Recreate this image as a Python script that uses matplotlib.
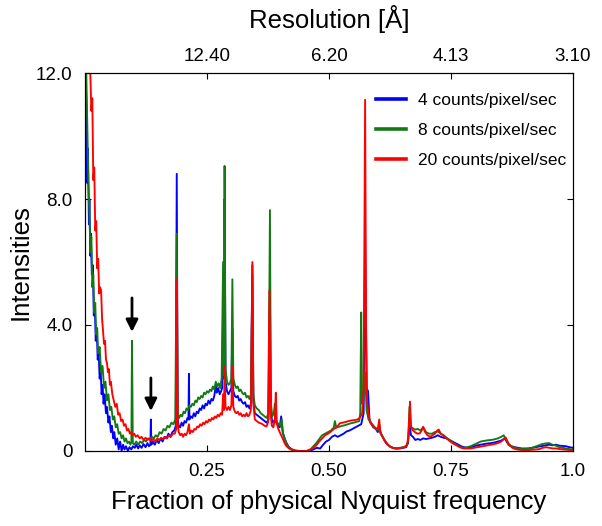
import matplotlib
matplotlib.use("Agg")
import matplotlib.pyplot as plt

# fraction of Nyquist ticks (bottom) and matching resolution labels (top)
freq_ticks = [0.25, 0.5, 0.75, 1.0]
freq_labels = ['0.25', '0.50', '0.75', '1.0']
res_labels = ['12.40', '6.20', '4.13', '3.10']
int_ticks = [0, 4, 8, 12]
int_labels = ['0', '4.0', '8.0', '12.0']

series_names = ['4 counts/pixel/sec', '8 counts/pixel/sec', '20 counts/pixel/sec']
series_colors = ['#0000ff', '#137a13', '#ff0000']

# (fraction, intensity)
blue_pts = [
    (0.000, 12.5), (0.003, 11.0), (0.005, 8.5), (0.006, 9.6), (0.008, 7.2), (0.009, 8.0),
    (0.011, 6.2), (0.012, 6.9), (0.014, 5.6), (0.016, 5.9), (0.018, 4.3), (0.020, 4.6),
    (0.022, 3.5), (0.024, 3.9), (0.026, 2.9), (0.028, 3.1), (0.030, 2.3), (0.032, 2.6),
    (0.034, 1.8), (0.036, 2.1), (0.038, 1.5), (0.040, 1.8), (0.043, 1.2), (0.045, 1.4),
    (0.048, 0.9), (0.050, 1.1), (0.053, 0.6), (0.055, 0.8), (0.058, 0.4), (0.060, 0.6),
    (0.063, 0.2), (0.066, 0.4), (0.069, 0.05), (0.072, 0.3), (0.075, 0.0), (0.078, 0.2),
    (0.081, 0.05), (0.084, 0.15), (0.088, 0.0), (0.091, 0.12), (0.095, 0.05), (0.098, 0.15),
    (0.102, 0.1), (0.105, 0.2), (0.109, 0.08), (0.112, 0.18), (0.116, 0.1), (0.120, 0.22),
    (0.124, 0.12), (0.128, 0.25), (0.131, 0.15), (0.134, 0.2), (0.135, 1.0), (0.136, 0.2),
    (0.139, 0.3), (0.143, 0.2), (0.147, 0.35), (0.151, 0.25), (0.155, 0.4), (0.159, 0.3),
    (0.163, 0.45), (0.167, 0.4), (0.171, 0.55), (0.175, 0.45), (0.179, 0.6), (0.183, 0.65),
    (0.186, 0.8), (0.188, 8.8), (0.190, 1.0), (0.192, 0.8), (0.195, 0.75), (0.198, 0.9),
    (0.201, 0.8), (0.204, 0.95), (0.207, 0.9), (0.210, 1.05), (0.212, 1.0), (0.213, 2.45),
    (0.214, 1.0), (0.217, 1.1), (0.220, 1.05), (0.223, 1.2), (0.226, 1.1), (0.229, 1.25),
    (0.232, 1.2), (0.235, 1.35), (0.238, 1.3), (0.241, 1.45), (0.244, 1.35), (0.247, 1.5),
    (0.250, 1.45), (0.253, 1.6), (0.256, 1.5), (0.259, 1.65), (0.262, 1.6), (0.265, 1.75),
    (0.268, 2.1), (0.270, 1.85), (0.273, 2.0), (0.276, 1.8), (0.279, 1.9), (0.281, 2.0),
    (0.283, 4.5), (0.2845, 2.3), (0.286, 8.0), (0.288, 2.2), (0.291, 1.9), (0.294, 1.8),
    (0.297, 1.9), (0.300, 2.0), (0.302, 3.9), (0.304, 1.9), (0.307, 1.75), (0.310, 1.7),
    (0.313, 1.75), (0.316, 1.6), (0.319, 1.65), (0.322, 1.55), (0.325, 1.5), (0.328, 1.55),
    (0.331, 1.4), (0.334, 1.45), (0.337, 1.35), (0.340, 1.5), (0.343, 5.9), (0.345, 1.6),
    (0.348, 1.2), (0.352, 1.15), (0.356, 1.1), (0.360, 1.05), (0.364, 1.0), (0.368, 0.95),
    (0.372, 0.9), (0.376, 1.0), (0.379, 4.9), (0.381, 1.2), (0.384, 0.9), (0.387, 0.95),
    (0.390, 1.0), (0.393, 0.85), (0.396, 0.8), (0.399, 0.75), (0.402, 1.1), (0.405, 0.6),
    (0.409, 0.4), (0.413, 0.25), (0.418, 0.12), (0.424, 0.05), (0.430, 0.0), (0.440, 0.0),
    (0.450, 0.0), (0.460, 0.0), (0.468, 0.05), (0.475, 0.1), (0.482, 0.08), (0.488, 0.2),
    (0.494, 0.3), (0.500, 0.35), (0.506, 0.45), (0.512, 0.5), (0.518, 0.45), (0.524, 0.5),
    (0.530, 0.55), (0.536, 0.62), (0.542, 0.65), (0.548, 0.7), (0.554, 0.75), (0.560, 0.8),
    (0.566, 0.85), (0.571, 1.2), (0.574, 6.8), (0.577, 2.0), (0.580, 1.9), (0.583, 1.0),
    (0.587, 0.85), (0.591, 0.75), (0.596, 0.7), (0.600, 0.6), (0.603, 0.8), (0.606, 0.55),
    (0.611, 0.42), (0.617, 0.25), (0.624, 0.15), (0.631, 0.1), (0.638, 0.08), (0.645, 0.08),
    (0.652, 0.1), (0.658, 0.12), (0.662, 0.25), (0.665, 0.9), (0.668, 0.5), (0.672, 0.45),
    (0.677, 0.35), (0.682, 0.38), (0.687, 0.35), (0.693, 0.4), (0.699, 0.38), (0.705, 0.4),
    (0.711, 0.42), (0.717, 0.45), (0.723, 0.5), (0.729, 0.45), (0.735, 0.42), (0.741, 0.4),
    (0.747, 0.35), (0.753, 0.3), (0.759, 0.25), (0.765, 0.2), (0.771, 0.15), (0.777, 0.12),
    (0.783, 0.1), (0.790, 0.12), (0.797, 0.15), (0.804, 0.18), (0.811, 0.2), (0.818, 0.22),
    (0.825, 0.24), (0.832, 0.25), (0.839, 0.27), (0.846, 0.3), (0.853, 0.33), (0.860, 0.4),
    (0.864, 0.3), (0.868, 0.2), (0.874, 0.15), (0.881, 0.12), (0.888, 0.1), (0.895, 0.08),
    (0.902, 0.08), (0.909, 0.08), (0.916, 0.1), (0.923, 0.12), (0.930, 0.14), (0.937, 0.16),
    (0.944, 0.18), (0.951, 0.2), (0.958, 0.18), (0.965, 0.2), (0.972, 0.17), (0.979, 0.16),
    (0.986, 0.15), (0.993, 0.12), (1.000, 0.1),
]

green_pts = [
    (0.002, 12.5), (0.005, 10.0), (0.007, 8.5), (0.009, 7.6), (0.011, 6.3), (0.013, 6.8),
    (0.015, 5.2), (0.017, 5.6), (0.019, 4.4), (0.021, 4.7), (0.023, 3.7), (0.025, 3.9),
    (0.027, 3.1), (0.030, 3.3), (0.033, 2.5), (0.036, 2.7), (0.039, 2.0), (0.042, 2.2),
    (0.045, 1.6), (0.048, 1.8), (0.051, 1.3), (0.054, 1.4), (0.057, 1.0), (0.060, 1.1),
    (0.063, 0.75), (0.066, 0.85), (0.069, 0.55), (0.072, 0.6), (0.075, 0.4), (0.078, 0.5),
    (0.081, 0.3), (0.084, 0.4), (0.087, 0.25), (0.090, 0.3), (0.093, 0.2), (0.095, 0.3),
    (0.0963, 3.5), (0.098, 0.25), (0.101, 0.2), (0.105, 0.3), (0.109, 0.2), (0.113, 0.3),
    (0.117, 0.25), (0.121, 0.35), (0.125, 0.3), (0.129, 0.4), (0.133, 0.35), (0.137, 0.45),
    (0.141, 0.4), (0.145, 0.5), (0.149, 0.45), (0.153, 0.6), (0.157, 0.55), (0.161, 0.7),
    (0.165, 0.65), (0.169, 0.8), (0.173, 0.75), (0.177, 0.9), (0.181, 0.85), (0.185, 1.0),
    (0.188, 6.9), (0.190, 1.2), (0.193, 1.05), (0.196, 1.15), (0.199, 1.1), (0.202, 1.25),
    (0.205, 1.2), (0.208, 1.35), (0.211, 1.3), (0.214, 1.45), (0.217, 1.4), (0.220, 1.5),
    (0.223, 1.45), (0.226, 1.6), (0.229, 1.55), (0.232, 1.7), (0.235, 1.65), (0.238, 1.75),
    (0.241, 1.7), (0.244, 1.85), (0.247, 1.8), (0.250, 1.9), (0.253, 1.85), (0.256, 1.95),
    (0.259, 1.9), (0.262, 2.05), (0.265, 1.95), (0.268, 2.2), (0.271, 2.05), (0.274, 2.15),
    (0.277, 2.0), (0.280, 2.3), (0.283, 6.0), (0.2845, 2.4), (0.286, 9.05), (0.288, 2.6),
    (0.291, 2.2), (0.294, 2.1), (0.297, 2.15), (0.300, 2.3), (0.302, 5.45), (0.304, 2.3),
    (0.307, 2.1), (0.310, 2.0), (0.313, 2.05), (0.316, 1.9), (0.319, 1.95), (0.322, 1.85),
    (0.325, 1.8), (0.328, 1.85), (0.331, 1.7), (0.334, 1.75), (0.337, 1.65), (0.340, 1.8),
    (0.343, 5.6), (0.345, 1.8), (0.348, 1.45), (0.352, 1.35), (0.356, 1.3), (0.360, 1.2),
    (0.364, 1.15), (0.368, 1.1), (0.372, 1.05), (0.376, 1.2), (0.379, 7.65), (0.381, 1.5),
    (0.384, 1.1), (0.387, 1.2), (0.389, 1.5), (0.391, 1.0), (0.394, 0.9), (0.397, 0.85),
    (0.400, 0.8), (0.403, 1.0), (0.406, 0.55), (0.410, 0.35), (0.414, 0.2), (0.419, 0.1),
    (0.425, 0.05), (0.432, 0.02), (0.440, 0.0), (0.448, 0.0), (0.455, 0.0), (0.462, 0.05),
    (0.468, 0.15), (0.474, 0.25), (0.480, 0.38), (0.486, 0.5), (0.492, 0.55), (0.498, 0.6),
    (0.504, 0.65), (0.510, 0.75), (0.512, 0.95), (0.515, 0.75), (0.521, 0.77), (0.527, 0.8),
    (0.533, 0.82), (0.539, 0.85), (0.545, 0.88), (0.551, 0.9), (0.557, 0.93), (0.562, 0.95),
    (0.564, 1.2), (0.566, 4.4), (0.568, 1.5), (0.570, 1.5), (0.574, 2.5), (0.577, 1.3),
    (0.581, 1.0), (0.586, 0.9), (0.591, 0.8), (0.596, 0.72), (0.600, 0.65), (0.603, 0.85),
    (0.606, 0.55), (0.611, 0.42), (0.617, 0.28), (0.624, 0.15), (0.631, 0.1), (0.638, 0.08),
    (0.645, 0.1), (0.652, 0.12), (0.658, 0.15), (0.662, 0.3), (0.665, 1.4), (0.668, 0.75),
    (0.672, 0.72), (0.677, 0.68), (0.682, 0.7), (0.687, 0.65), (0.693, 0.75), (0.699, 0.6),
    (0.705, 0.55), (0.711, 0.55), (0.717, 0.6), (0.723, 0.62), (0.729, 0.55), (0.735, 0.5),
    (0.741, 0.42), (0.747, 0.35), (0.753, 0.28), (0.759, 0.22), (0.765, 0.15), (0.771, 0.12),
    (0.777, 0.1), (0.783, 0.12), (0.790, 0.15), (0.797, 0.2), (0.804, 0.25), (0.811, 0.3),
    (0.818, 0.32), (0.825, 0.34), (0.832, 0.35), (0.839, 0.37), (0.846, 0.4), (0.853, 0.45),
    (0.858, 0.5), (0.863, 0.35), (0.868, 0.22), (0.874, 0.15), (0.881, 0.1), (0.888, 0.08),
    (0.895, 0.06), (0.902, 0.06), (0.909, 0.08), (0.916, 0.1), (0.923, 0.14), (0.930, 0.18),
    (0.937, 0.22), (0.944, 0.24), (0.951, 0.25), (0.958, 0.2), (0.965, 0.17), (0.972, 0.12),
    (0.979, 0.1), (0.986, 0.08), (0.993, 0.06), (1.000, 0.05),
]

red_pts = [
    (0.010, 12.5), (0.013, 10.8), (0.015, 11.2), (0.017, 8.6), (0.019, 9.0), (0.021, 7.0),
    (0.023, 7.3), (0.025, 5.8), (0.027, 6.1), (0.029, 5.0), (0.031, 5.2), (0.033, 5.1),
    (0.035, 4.2), (0.037, 3.8), (0.039, 3.4), (0.041, 3.5), (0.043, 2.9), (0.045, 2.8),
    (0.047, 2.5), (0.049, 2.6), (0.051, 2.1), (0.053, 2.2), (0.056, 1.8), (0.059, 1.6),
    (0.062, 1.4), (0.065, 1.5), (0.068, 1.15), (0.071, 1.2), (0.074, 0.95), (0.077, 1.0),
    (0.080, 0.8), (0.083, 0.85), (0.086, 0.65), (0.089, 0.7), (0.092, 0.55), (0.095, 0.6),
    (0.098, 0.5), (0.101, 0.55), (0.104, 0.45), (0.108, 0.5), (0.112, 0.4), (0.116, 0.45),
    (0.120, 0.35), (0.124, 0.42), (0.128, 0.35), (0.132, 0.4), (0.136, 0.32), (0.140, 0.38),
    (0.144, 0.3), (0.148, 0.4), (0.152, 0.35), (0.156, 0.42), (0.160, 0.38), (0.164, 0.45),
    (0.168, 0.4), (0.172, 0.5), (0.176, 0.45), (0.180, 0.55), (0.184, 0.55), (0.187, 0.7),
    (0.188, 5.45), (0.190, 0.9), (0.192, 0.6), (0.195, 0.5), (0.198, 0.55), (0.201, 0.45),
    (0.204, 0.55), (0.207, 0.5), (0.210, 0.6), (0.213, 0.85), (0.215, 0.55), (0.218, 0.65),
    (0.221, 0.6), (0.224, 0.7), (0.227, 0.68), (0.230, 0.78), (0.233, 0.75), (0.236, 0.85),
    (0.239, 0.8), (0.242, 0.9), (0.245, 0.85), (0.248, 0.95), (0.251, 0.9), (0.254, 1.0),
    (0.257, 0.95), (0.260, 1.05), (0.263, 1.0), (0.266, 1.1), (0.269, 1.05), (0.272, 1.15),
    (0.275, 1.1), (0.278, 1.2), (0.281, 1.15), (0.283, 1.8), (0.285, 1.3), (0.286, 2.7),
    (0.288, 1.4), (0.291, 1.3), (0.294, 1.4), (0.297, 1.3), (0.300, 1.45), (0.302, 2.7),
    (0.304, 1.4), (0.307, 1.25), (0.310, 1.2), (0.313, 1.25), (0.316, 1.15), (0.319, 1.2),
    (0.322, 1.1), (0.325, 1.15), (0.328, 1.1), (0.331, 1.2), (0.334, 1.1), (0.337, 1.15),
    (0.340, 1.3), (0.343, 6.0), (0.345, 1.5), (0.348, 1.0), (0.352, 0.95), (0.356, 0.9),
    (0.360, 0.88), (0.364, 0.85), (0.368, 0.8), (0.372, 0.78), (0.375, 0.9), (0.378, 5.1),
    (0.380, 1.2), (0.383, 0.8), (0.386, 0.75), (0.389, 1.0), (0.391, 1.85), (0.393, 0.9),
    (0.396, 0.7), (0.399, 0.6), (0.402, 0.5), (0.405, 0.4), (0.409, 0.25), (0.413, 0.15),
    (0.418, 0.08), (0.424, 0.03), (0.430, 0.0), (0.438, 0.0), (0.446, 0.0), (0.454, 0.0),
    (0.462, 0.05), (0.468, 0.1), (0.474, 0.18), (0.480, 0.3), (0.486, 0.4), (0.492, 0.5),
    (0.498, 0.55), (0.504, 0.62), (0.510, 0.7), (0.516, 0.75), (0.522, 0.88), (0.528, 0.9),
    (0.534, 0.92), (0.540, 0.95), (0.546, 0.97), (0.552, 0.98), (0.558, 1.0), (0.563, 1.05),
    (0.568, 1.2), (0.571, 2.0), (0.574, 11.15), (0.576, 4.0), (0.578, 1.6), (0.581, 1.2),
    (0.584, 0.9), (0.588, 0.85), (0.592, 0.75), (0.596, 0.72), (0.600, 0.7), (0.603, 1.0),
    (0.605, 0.6), (0.609, 0.48), (0.614, 0.32), (0.620, 0.2), (0.627, 0.12), (0.634, 0.08),
    (0.641, 0.08), (0.648, 0.1), (0.655, 0.12), (0.660, 0.2), (0.663, 0.5), (0.666, 1.57),
    (0.668, 0.8), (0.671, 0.67), (0.676, 0.6), (0.681, 0.55), (0.686, 0.56), (0.690, 0.65),
    (0.693, 0.77), (0.697, 0.6), (0.702, 0.5), (0.707, 0.45), (0.712, 0.5), (0.717, 0.55),
    (0.722, 0.65), (0.725, 0.68), (0.729, 0.55), (0.735, 0.48), (0.741, 0.4), (0.747, 0.32),
    (0.753, 0.25), (0.759, 0.2), (0.765, 0.15), (0.771, 0.1), (0.777, 0.08), (0.783, 0.08),
    (0.790, 0.08), (0.797, 0.1), (0.804, 0.12), (0.811, 0.14), (0.818, 0.16), (0.825, 0.18),
    (0.832, 0.2), (0.839, 0.22), (0.846, 0.25), (0.853, 0.3), (0.858, 0.37), (0.862, 0.43),
    (0.866, 0.3), (0.870, 0.18), (0.876, 0.1), (0.882, 0.06), (0.889, 0.04), (0.896, 0.03),
    (0.903, 0.03), (0.910, 0.03), (0.917, 0.04), (0.924, 0.05), (0.931, 0.06), (0.938, 0.1),
    (0.945, 0.12), (0.952, 0.1), (0.959, 0.08), (0.966, 0.08), (0.973, 0.06), (0.980, 0.05),
    (0.987, 0.04), (0.994, 0.03), (1.000, 0.03),
]

# the two arrows marking weak peaks
arrow_x = [0.0963, 0.135]
arrow_top = [4.86, 2.32]
arrow_tip = [3.78, 1.27]

plt.rcParams['font.family'] = ['Liberation Sans', 'DejaVu Sans']

fig = plt.figure(figsize=(6.02, 5.26), dpi=100)
ax = fig.add_axes([0.1412, 0.1426, 0.8106, 0.7186])

for pts, name, col in zip([blue_pts, green_pts, red_pts], series_names, series_colors):
    xs, ys = zip(*pts)
    ax.plot(xs, ys, color=col, lw=1.35, label=name)

for x, y0, y1 in zip(arrow_x, arrow_top, arrow_tip):
    ax.annotate('', xy=(x, y1), xytext=(x, y0),
                arrowprops=dict(arrowstyle='-|>', color='black', lw=2,
                                mutation_scale=18, shrinkA=0, shrinkB=0))

ax.set_xlim(0, 1)
ax.set_ylim(0, 12)
ax.set_xticks(freq_ticks)
ax.set_xticklabels(freq_labels)
ax.set_yticks(int_ticks)
ax.set_yticklabels(int_labels)
ax.tick_params(direction='in', length=4, width=0.8, labelsize=13.5, right=True, pad=9)
ax.set_xlabel('Fraction of physical Nyquist frequency', fontsize=18.5, labelpad=7)
ax.set_ylabel('Intensities', fontsize=18.5, labelpad=2)

ax2 = ax.twiny()
ax2.set_xlim(0, 1)
ax2.set_xticks(freq_ticks)
ax2.set_xticklabels(res_labels)
ax2.tick_params(direction='in', length=4, width=0.8, labelsize=13.5, pad=6)
ax2.set_xlabel('Resolution [Å]', fontsize=18.5, labelpad=14)

leg = ax.legend(loc='upper left', bbox_to_anchor=(0.596, 0.948), frameon=False,
                fontsize=12.5, handlelength=1.75, handletextpad=0.65,
                labelspacing=0.87, borderpad=0, borderaxespad=0)
for line in leg.get_lines():
    line.set_linewidth(2.6)

fig.savefig('out.png', dpi=100)
